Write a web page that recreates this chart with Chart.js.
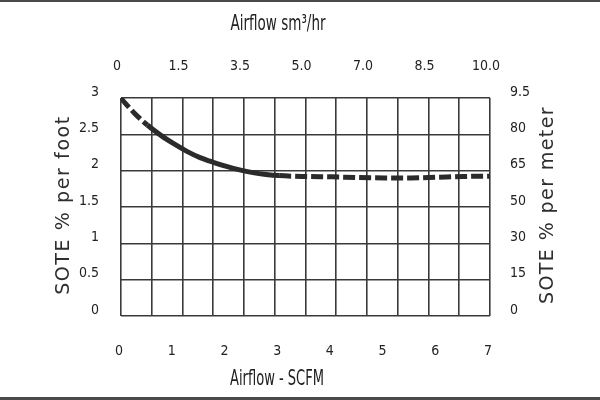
<!DOCTYPE html>
<html><head><meta charset="utf-8">
<script src="https://cdn.jsdelivr.net/npm/chart.js@4"></script>
<style>html,body{margin:0;padding:0;background:#fff}#wrap{width:600px;height:400px;position:relative}</style>
</head><body><div id="wrap"><canvas id="c" width="600" height="400"></canvas></div>
<script>
const scfm = [0, 0.25, 0.5, 0.75, 1, 1.25, 1.5, 1.75, 2, 2.25, 2.5, 2.75, 3, 3.5, 4, 4.5, 5, 5.5, 6, 6.5, 7];
const sote = [2.995, 2.795, 2.628, 2.489, 2.371, 2.266, 2.18, 2.115, 2.058, 2.01, 1.973, 1.948, 1.932, 1.92, 1.915, 1.905, 1.90, 1.90, 1.91, 1.92, 1.925];
const leftTicks = ['0', '0.5', '1', '1.5', '2', '2.5', '3'];
const rightTicks = ['0', '15', '30', '50', '65', '80', '9.5'];
const bottomTicks = ['0', '1', '2', '3', '4', '5', '6', '7'];
const topTicks = ['0', '1.5', '3.5', '5.0', '7.0', '8.5', '10.0'];
const titleTop = 'Airflow sm\u00B3/hr';
const titleBottom = 'Airflow - SCFM';
const titleLeft = 'SOTE % per foot';
const titleRight = 'SOTE % per meter';

const tickFont = { family: '"DejaVu Sans Condensed", "Liberation Sans Narrow", sans-serif', size: 14 };
const gridColor = '#3a3a3a';

function fixW(w) { return s => { s.width = w; }; }
function fixH(h) { return s => { s.height = h; }; }

function drawText(ctx, text, cx, cy, font, targetW, rot, spacing) {
  ctx.save();
  ctx.translate(cx, cy);
  if (rot) ctx.rotate(rot);
  ctx.font = font;
  if (spacing) ctx.letterSpacing = spacing + 'px';
  ctx.textAlign = 'center';
  ctx.textBaseline = 'middle';
  if (targetW) {
    const w = ctx.measureText(text).width;
    ctx.scale(targetW / w, 1);
  }
  ctx.fillText(text, 0, 0);
  ctx.restore();
}

const decor = {
  id: 'decor',
  afterDraw(chart) {
    const ctx = chart.ctx;
    const W = chart.width, H = chart.height;
    const a = chart.chartArea;
    ctx.save();
    ctx.fillStyle = '#4a4a4a';
    ctx.fillRect(0, 0, W, 2);
    ctx.fillRect(0, H - 3, W, 3);
    ctx.fillStyle = '#222';
    const cond = '"Liberation Sans Narrow", "DejaVu Sans Condensed", sans-serif';
    drawText(ctx, titleTop, a.left + 157, 25, '21px ' + cond, 95, 0, 0);
    drawText(ctx, titleBottom, a.left + 156, 380, '21px ' + cond, 94, 0, 0);
    ctx.fillStyle = '#2e2e2e';
    const wide = '"DejaVu Sans", "Noto Sans", sans-serif';
    drawText(ctx, titleLeft, 64.5, (a.top + a.bottom) / 2 - 2, '19px ' + wide, 0, -Math.PI / 2, 1.6);
    drawText(ctx, titleRight, 548, (a.top + a.bottom) / 2 - 2, '19px ' + wide, 0, -Math.PI / 2, 1.4);
    ctx.restore();
  }
};

new Chart(document.getElementById('c'), {
  type: 'line',
  data: {
    datasets: [{
      data: scfm.map((x, i) => ({ x: x, y: sote[i] })),
      xAxisID: 'x',
      yAxisID: 'y',
      borderColor: '#2b2b2b',
      borderWidth: 5,
      pointRadius: 0,
      cubicInterpolationMode: 'monotone',
      borderCapStyle: 'butt',
      segment: {
        borderDash: ctx => (ctx.p0.parsed.x < 0.5 || ctx.p0.parsed.x >= 3) ? [12, 4] : undefined
      }
    }]
  },
  plugins: [decor],
  options: {
    responsive: false,
    animation: false,
    layout: { padding: 0 },
    plugins: { legend: { display: false }, tooltip: { enabled: false } },
    scales: {
      x: {
        type: 'linear', position: 'bottom', min: 0, max: 7,
        afterFit: fixH(84),
        grid: { display: false }, border: { display: false },
        ticks: { stepSize: 1, padding: 19, labelOffset: -2, color: '#222', font: tickFont,
          callback: (v, i) => bottomTicks[i] }
      },
      x2: {
        type: 'linear', position: 'top', min: 0, max: 12,
        afterFit: fixH(98),
        grid: { color: gridColor, lineWidth: 1.6, drawTicks: false }, border: { display: false },
        ticks: { stepSize: 1, autoSkip: false, maxRotation: 0, padding: 23, labelOffset: -4, color: '#222', font: tickFont,
          callback: (v, i) => (i % 2 === 0 ? topTicks[i / 2] : '') }
      },
      y: {
        type: 'linear', position: 'left', min: 0, max: 3,
        afterFit: fixW(121),
        grid: { color: gridColor, lineWidth: 1.6, drawTicks: false }, border: { display: false },
        ticks: { stepSize: 0.5, padding: 22, labelOffset: -6, color: '#222', font: tickFont,
          callback: (v, i) => leftTicks[i] }
      },
      y2: {
        type: 'linear', position: 'right', min: 0, max: 3,
        afterFit: fixW(110),
        grid: { display: false }, border: { display: false },
        ticks: { stepSize: 0.5, padding: 12, labelOffset: -6, color: '#222', font: tickFont,
          callback: (v, i) => rightTicks[i] }
      }
    }
  }
});
</script>
</body></html>
